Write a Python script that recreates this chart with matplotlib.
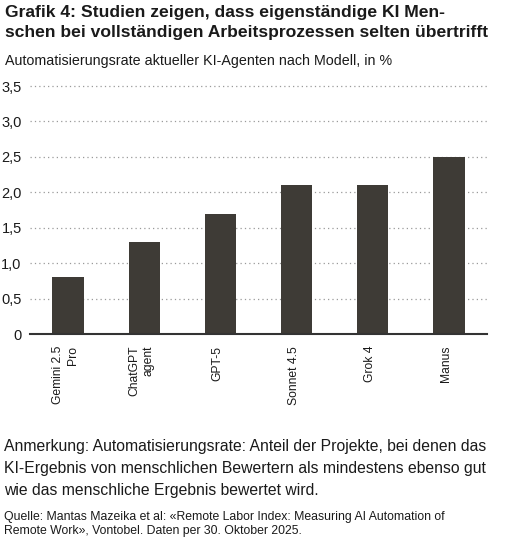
import matplotlib
matplotlib.use("Agg")
import matplotlib.pyplot as plt

categories = ["Gemini 2.5\nPro", "ChatGPT\nagent", "GPT-5", "Sonnet 4.5", "Grok 4", "Manus"]
values = [0.8, 1.3, 1.7, 2.1, 2.1, 2.5]
yticks = [0, 0.5, 1.0, 1.5, 2.0, 2.5, 3.0, 3.5]
ytick_labels = ["0", "0,5", "1,0", "1,5", "2,0", "2,5", "3,0", "3,5"]

title = "Grafik 4: Studien zeigen, dass eigenständige KI Men-\nschen bei vollständigen Arbeitsprozessen selten übertrifft"
subtitle = "Automatisierungsrate aktueller KI-Agenten nach Modell, in %"
note = ("Anmerkung: Automatisierungsrate: Anteil der Projekte, bei denen das\n"
        "KI-Ergebnis von menschlichen Bewertern als mindestens ebenso gut\n"
        "wie das menschliche Ergebnis bewertet wird.")
source = ("Quelle: Mantas Mazeika et al: «Remote Labor Index: Measuring AI Automation of\n"
          "Remote Work», Vontobel. Daten per 30. Oktober 2025.")

plt.rcParams['font.family'] = ['Liberation Sans', 'DejaVu Sans']
W, H = 520, 540
fig = plt.figure(figsize=(W / 100, H / 100), dpi=100)
fig.patch.set_facecolor("white")

txt = "#1a1a1a"
ax_left, ax_right = 30, 487
ax_top, ax_bottom = 86, 334
ax = fig.add_axes([ax_left / W, 1 - ax_bottom / H, (ax_right - ax_left) / W, (ax_bottom - ax_top) / H])

x = list(range(len(categories)))
ax.bar(x, values, width=0.41, color="#3e3b36", zorder=3)
ax.set_xlim(-0.5, len(categories) - 0.5)
ax.set_ylim(0, 3.5)
ax.set_yticks(yticks)
ax.set_yticklabels(ytick_labels)
for yv in yticks[1:]:
    ax.axhline(yv, color="#9a9a9a", lw=0.9, linestyle=(0, (1, 2.5)), zorder=1, clip_on=False)
ax.axhline(0, color="#333333", lw=1.5, zorder=4, clip_on=False)

for s in ax.spines.values():
    s.set_visible(False)
ax.tick_params(axis="y", length=0, pad=6, labelsize=10.5, labelcolor=txt)
ax.tick_params(axis="x", length=0)
ax.set_xticks(x)
ax.set_xticklabels([])
for xi, lab in zip(x, categories):
    ax.annotate(lab, xy=(xi, 0), xycoords="data", xytext=(-2, -8.5), textcoords="offset points",
                rotation=90, ha="center", va="top", multialignment="right",
                fontsize=8.7, color=txt, linespacing=1.3, annotation_clip=False)

fig.text(5 / W, 1 - 5 / H, title, ha="left", va="top", fontsize=12.6, fontweight="bold",
         color=txt, linespacing=1.38)
fig.text(5 / W, 1 - 54 / H, subtitle, ha="left", va="top", fontsize=10.3, color=txt)
fig.text(4 / W, 1 - 439 / H, note, ha="left", va="top", fontsize=11.3, color=txt, linespacing=1.6)
fig.text(4 / W, 1 - 511 / H, source, ha="left", va="top", fontsize=8.8, color=txt, linespacing=1.2)

fig.savefig("out.png", dpi=100, facecolor="white")
